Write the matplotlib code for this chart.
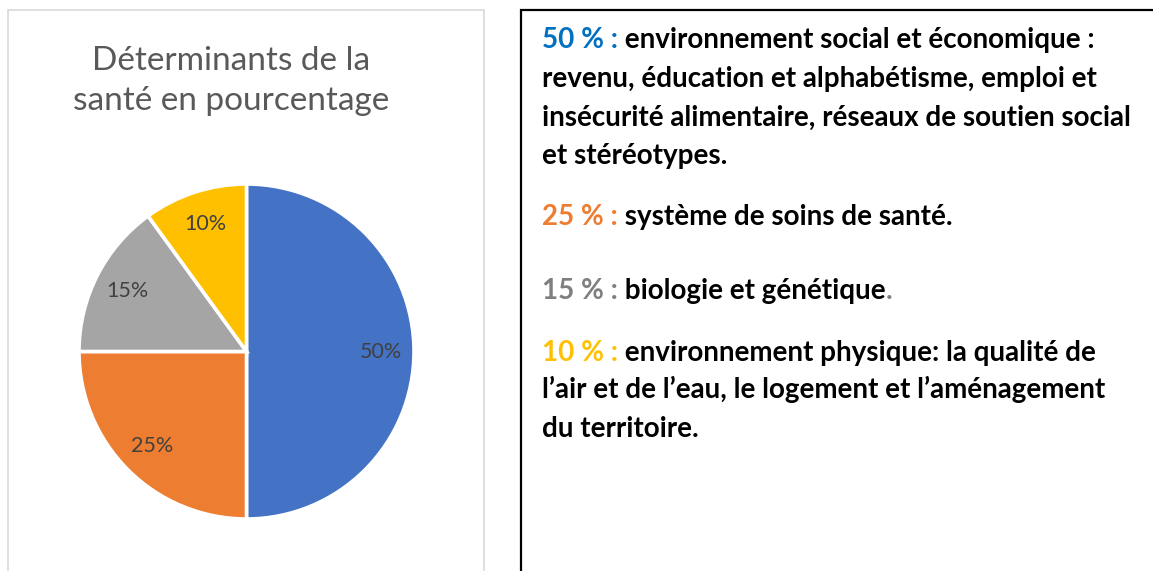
import matplotlib
matplotlib.use('Agg')
import matplotlib.pyplot as plt
from matplotlib.patches import Rectangle

plt.rcParams['font.family'] = ['Lato', 'DejaVu Sans']

# données du graphique
parts = [50, 25, 15, 10]
part_colors = ['#4472C4', '#ED7D31', '#A5A5A5', '#FFC000']
title = 'Déterminants de la\nsanté en pourcentage'

# texte de l'encadré : (segments, couleurs) par ligne
text_lines = [
    (['50 % :', ' environnement social et économique :'], ['#0070C0', 'black']),
    (['revenu, éducation et alphabétisme, emploi et'], ['black']),
    (['insécurité alimentaire, réseaux de soutien social'], ['black']),
    (['et stéréotypes.'], ['black']),
    (['25 % :', ' système de soins de santé.'], ['#ED7D31', 'black']),
    (['15 % :', ' biologie et génétique', '.'], ['#7F7F7F', 'black', '#7F7F7F']),
    (['10 % :', ' environnement physique: la qualité de'], ['#FFC000', 'black']),
    (['l\u2019air et de l\u2019eau, le logement et l\u2019aménagement'], ['black']),
    (['du territoire.'], ['black']),
]
baselines = [48, 87, 126, 164, 225, 299, 361, 398, 437]

W, H = 1153, 571
fig = plt.figure(figsize=(W / 100, H / 100), dpi=100)

# cadres
fig.add_artist(Rectangle((8 / W, -0.1), 476 / W, 1.1 - 10 / H, transform=fig.transFigure,
                         fill=False, edgecolor='#D9D9D9', linewidth=1.2))
fig.add_artist(Rectangle((521 / W, -0.1), 700 / W, 1.1 - 10 / H, transform=fig.transFigure,
                         fill=False, edgecolor='black', linewidth=1.6))

# camembert
cx, cy, r = 246.5, 351.5, 167.5
ax = fig.add_axes([(cx - r) / W, (H - cy - r) / H, 2 * r / W, 2 * r / H])
wedges, texts, autotexts = ax.pie(parts, colors=part_colors, startangle=90, counterclock=False,
                                  autopct='%d%%', pctdistance=0.8,
                                  wedgeprops=dict(edgecolor='white', linewidth=2.6),
                                  textprops=dict(color='#404040', fontsize=15.5))
ax.set_xlim(-1, 1)
ax.set_ylim(-1, 1)

# titre (baseline de la 2e ligne)
fig.text(231 / W, 1 - 110 / H, title, ha='center', va='baseline', fontsize=24,
         color='#595959', linespacing=1.42)

# texte à droite, segments colorés
renderer = fig.canvas.get_renderer()
x0 = 542
fs = 20
for (segs, cols), by in zip(text_lines, baselines):
    y = 1 - by / H
    full = fig.text(x0 / W, y, ''.join(segs), fontsize=fs, fontweight='bold', va='baseline')
    wfull = full.get_window_extent(renderer).width
    full.remove()
    for k, (s, c) in enumerate(zip(segs, cols)):
        rest = fig.text(0, y, ''.join(segs[k:]), fontsize=fs, fontweight='bold', va='baseline')
        wrest = rest.get_window_extent(renderer).width
        rest.remove()
        fig.text((x0 + wfull - wrest) / W, y, s, fontsize=fs, fontweight='bold',
                 color=c, va='baseline')

fig.savefig('out.png', dpi=100)
